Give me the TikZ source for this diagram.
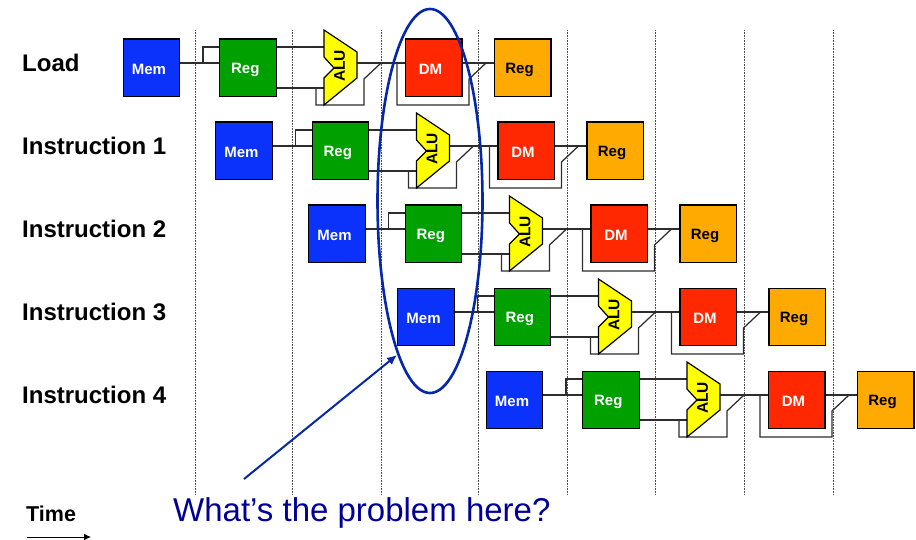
\documentclass[tikz,border=0pt]{standalone}
\usepackage{fontspec}
\usetikzlibrary{shapes.geometric,arrows.meta}
\setmainfont{Liberation Sans}
\definecolor{memblue}{RGB}{10,50,250}
\definecolor{reggreen}{RGB}{0,160,0}
\definecolor{dmred}{RGB}{255,40,0}
\definecolor{regorange}{RGB}{255,170,0}
\definecolor{alu}{RGB}{255,255,0}
\definecolor{noteblue}{RGB}{0,0,150}
\definecolor{ovalblue}{RGB}{5,40,170}
\definecolor{wire}{RGB}{45,45,45}
\tikzset{
 x=1pt,y=-1pt,
 stage/.style={draw=black,line width=1.3pt,minimum width=56.5pt,minimum height=57.5pt,inner sep=0pt,anchor=north west},
 stagetext/.style={font=\bfseries\fontsize{15}{16}\selectfont,inner sep=0pt},
 wireline/.style={draw=wire,line width=1.25pt,line join=miter},
 rowlabel/.style={anchor=west,font=\bfseries\fontsize{24}{28}\selectfont,inner sep=0pt},
 grid/.style={black!70,densely dotted,line width=0.6pt},
}
\newcommand{\instr}[3]{% offset x, offset y, prefix
\begin{scope}[shift={(#1,#2)}]
 \coordinate (#3a) at (203,63);
 \coordinate (#3b) at (203,47);
 \coordinate (#3c) at (316,88);
 \coordinate (#3d) at (316,105);
 \coordinate (#3e) at (364,105);
 \coordinate (#3f) at (364,79);
 \coordinate (#3g) at (381,63);
 \coordinate (#3h) at (397,63);
 \coordinate (#3i) at (397,105);
 \coordinate (#3j) at (469,105);
 \coordinate (#3k) at (469,79);
 \coordinate (#3l) at (486,63);
 \node[stage,fill=memblue] (#3mem) at (122.5,38.5) {};
 \node[stage,fill=reggreen] (#3reg) at (219,38.5) {};
 \node[stage,fill=dmred] (#3dm) at (404.7,38.5) {};
 \node[stage,fill=regorange] (#3wb) at (493.7,38.5) {};
 \node[stagetext,text=white] (#3memt) at (149,69.5) {Mem};
 \node[stagetext,text=white] (#3regt) at (245.3,69.5) {Reg};
 \node[stagetext,text=white] (#3dmt) at (430.5,69.5) {DM};
 \node[stagetext,text=black] (#3wbt) at (519.5,69.5) {Reg};
 \draw[wireline] (#3mem.east |- #3a) -- (#3reg.west |- #3a);
 \draw[wireline] (#3a) -- (#3b) -- (#3reg.west |- #3b);
 \draw[wireline] (#3reg.east |- #3b) -- (324,47);
 \draw[wireline] (#3reg.east |- #3c) -- (324,88);
 \draw[wireline] (#3c) -- (#3d) -- (#3e) -- (#3f) -- (#3g);
 \draw[wireline] (357,63) -- (#3dm.west |- #3a);
 \draw[wireline] (#3h) -- (#3i) -- (#3j) -- (#3k) -- (#3l);
 \draw[wireline] (#3dm.east |- #3a) -- (#3wb.west |- #3a);
 \draw[draw=black,fill=alu,line width=1.2pt] (324,30) -- (357,52) -- (357,78) -- (324,105) -- (324,78) -- (334,68) -- (324,57) -- cycle;
 \node[rotate=90,font=\bfseries\fontsize{15.5}{16}\selectfont,inner sep=0pt] (#3alu) at (339.5,66) {ALU};
\end{scope}}
\begin{document}
\begin{tikzpicture}
\useasboundingbox (0,0) rectangle (916,540);
\foreach \gx in {195,292,381,478,567,655,744,833} \draw[grid] (\gx,30) -- (\gx,495);
\instr{0}{0}{p}
\instr{92.5}{83}{q}
\instr{185.5}{166}{r}
\instr{274.5}{249}{s}
\instr{363}{332}{t}
\node[rowlabel] (l0) at (22,63) {Load};
\node[rowlabel] (l1) at (22,146) {Instruction 1};
\node[rowlabel] (l2) at (22,229) {Instruction 2};
\node[rowlabel] (l3) at (22,312) {Instruction 3};
\node[rowlabel] (l4) at (22,395) {Instruction 4};
\node[ellipse,draw=ovalblue,line width=2.6pt,minimum width=105pt,minimum height=384pt,inner sep=0pt] (oval) at (430,201) {};
\node[anchor=base west,inner sep=0pt,text=noteblue,font=\fontsize{33}{38}\selectfont] (note) at (173,521) {What’s the problem here?};
\coordinate (notestart) at (244,479);
\coordinate (notetip) at (397,355);
\draw[ovalblue,line width=2pt,-{Latex[length=10pt,width=9pt]}] (notestart) -- (notetip);
\node[anchor=west,inner sep=0pt,font=\bfseries\fontsize{21.5}{24}\selectfont] (time) at (26,514) {Time};
\coordinate (t0) at (27,537);
\coordinate (t1) at (91,537);
\draw[black,line width=1pt,-{Latex[length=7pt,width=7pt]}] (t0) -- (t1);
\end{tikzpicture}
\end{document}
